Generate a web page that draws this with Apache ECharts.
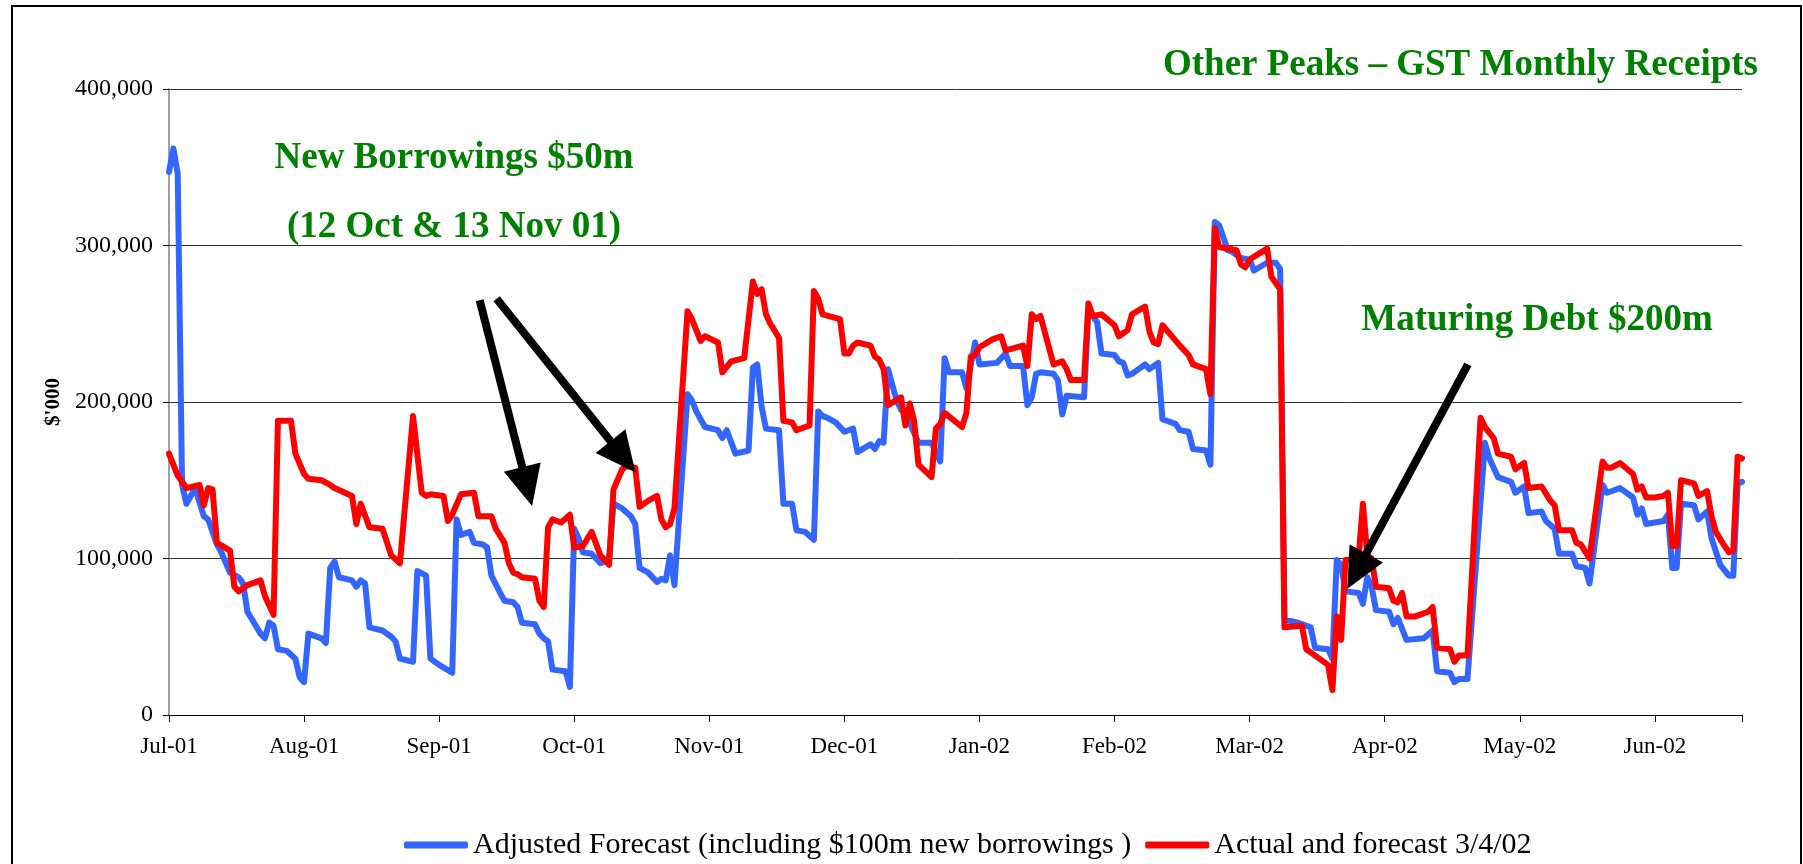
<!DOCTYPE html>
<html>
<head>
<meta charset="utf-8">
<script src="https://cdn.jsdelivr.net/npm/echarts@6/dist/echarts.min.js"></script>
<style>
  html, body { margin: 0; padding: 0; background: #fff; overflow: hidden; }
  #main { width: 1803px; height: 864px; }
  #frame { position: absolute; left: 11px; top: 5px; width: 1787px; height: 900px;
           border: 2px solid #000; pointer-events: none; }
</style>
</head>
<body>
<div id="main"></div>
<div id="frame"></div>
<script>
// x axis: days counted from 1 Jul 01, one tick every 31 days
const monthLabels = ['Jul-01', 'Aug-01', 'Sep-01', 'Oct-01', 'Nov-01', 'Dec-01',
  'Jan-02', 'Feb-02', 'Mar-02', 'Apr-02', 'May-02', 'Jun-02'];

// Adjusted Forecast (blue) - day and balance in $'000
const blueDays = [0, 1, 2, 3, 4, 6, 8, 9, 11, 12, 14, 16, 17, 18, 21, 22, 23, 24, 25, 27, 29, 30, 31, 32, 35, 36, 37, 38, 39, 42, 43, 44, 45, 46, 49, 51, 52, 53, 56, 57, 59, 60, 62,
  65, 66, 67, 69, 70, 72, 73, 74, 76, 77, 79, 80, 81, 84, 85, 86, 87, 88, 91, 92, 93, 94, 95, 97, 99, 100, 101, 102, 104, 106, 107, 108, 110, 112, 113, 114, 115, 116, 119, 120, 121, 123,
  126, 127, 128, 130, 133, 134, 135, 136, 137, 140, 141, 143, 144, 146, 148, 149, 150, 151, 153, 155, 157, 158, 161, 162, 163, 164, 165, 167, 168, 169, 172, 175, 177, 178, 179, 182, 183, 185, 186,
  190, 192, 193, 196, 197, 198, 199, 200, 203, 204, 205, 206, 210, 211, 213, 214, 217, 218, 219, 220, 221, 224, 225, 227, 228, 231, 232, 234, 235, 238, 239, 240, 241, 243, 244, 246, 248, 249, 252, 254, 255,
  256, 259, 262, 263, 266, 267, 268, 269, 270, 273, 274, 275, 276, 277, 280, 281, 282, 284, 288, 290, 291, 294, 295, 296, 298, 302, 303, 305, 308, 309, 311, 312, 315, 316, 318, 319,
  322, 323, 325, 326, 329, 330, 331, 333, 336, 337, 338, 339, 343, 344, 345, 346, 347, 350, 351, 353, 354, 356, 358, 359, 360, 361];
const blueValues = [347000, 362000, 346000, 147000, 135000, 145000, 127000, 125000, 109000, 104000, 91000, 88000, 84000, 66000, 52000, 49000, 59000, 57000, 42000, 41000, 36000, 24000, 21000, 52000, 49000, 46000, 94000, 98000, 88000, 86000, 82000, 86000, 84000, 56000, 54000, 50000, 47000, 36000, 34000, 92000, 89000, 36000, 32000,
  27000, 125000, 115000, 117000, 110000, 109000, 107000, 89000, 78000, 73000, 72000, 69000, 59000, 58000, 52000, 49000, 47000, 29000, 28000, 18000, 119000, 113000, 104000, 103000, 97000, 98000, 100000, 135000, 132000, 127000, 122000, 94000, 91000, 85000, 87000, 86000, 102000, 83000, 205000, 201000, 194000, 184000,
  182000, 177000, 182000, 167000, 169000, 222000, 224000, 197000, 183000, 182000, 135000, 135000, 118000, 117000, 112000, 194000, 191000, 190000, 187000, 181000, 183000, 168000, 173000, 170000, 175000, 174000, 221000, 201000, 195000, 193000, 174000, 174000, 162000, 228000, 219000, 219000, 209000, 238000, 224000,
  225000, 231000, 223000, 223000, 198000, 203000, 218000, 219000, 218000, 214000, 192000, 204000, 203000, 259000, 251000, 231000, 230000, 226000, 225000, 217000, 218000, 224000, 221000, 225000, 189000, 186000, 182000, 181000, 170000, 169000, 160000, 315000, 313000, 297000, 296000, 292000, 291000, 284000, 289000, 289000, 285000,
  61000, 59000, 56000, 43000, 42000, 36000, 99000, 96000, 79000, 78000, 71000, 88000, 82000, 67000, 66000, 58000, 62000, 48000, 49000, 54000, 28000, 27000, 21000, 23000, 23000, 174000, 164000, 152000, 149000, 142000, 146000, 129000, 130000, 124000, 119000, 103000,
  103000, 95000, 94000, 84000, 147000, 142000, 143000, 145000, 139000, 128000, 132000, 122000, 124000, 128000, 94000, 94000, 135000, 134000, 125000, 130000, 113000, 96000, 89000, 89000, 148000, 149000];

// Actual and forecast 3/4/02 (red)
const redDays = [0, 2, 4, 7, 8, 9, 10, 11, 14, 15, 16, 18, 21, 22, 24, 25, 28, 29, 31, 32, 35, 37, 38, 42, 43, 44, 46, 49, 51, 53, 56, 58, 59, 60,
  63, 64, 65, 67, 70, 71, 74, 75, 77, 78, 79, 80, 81, 84, 85, 86, 87, 88, 90, 92, 93, 95, 97, 99, 101, 102, 104, 105, 107, 108, 110, 112, 113, 114, 115, 116, 119, 120, 122, 123,
  126, 127, 129, 132, 134, 135, 136, 137, 138, 140, 141, 143, 144, 147, 148, 149, 150, 154, 155, 156, 157, 158, 161, 162, 163, 164, 165, 168, 169, 170, 171, 172, 175, 176, 177, 178, 182, 183, 184, 185, 186, 189,
  191, 192, 196, 197, 198, 199, 200, 203, 205, 206, 207, 210, 211, 212, 214, 217, 218, 220, 221, 224, 225, 226, 227, 228, 232, 234, 235, 238, 239, 240, 241, 245, 246, 247, 248, 252, 253, 254, 255,
  256, 260, 261, 262, 264, 266, 267, 268, 269, 270, 273, 274, 275, 276, 277, 280, 281, 282, 283, 284, 286, 289, 290, 291, 294, 295, 296, 298, 301, 302, 304, 305, 308, 309, 311, 312, 315, 317, 318, 319,
  322, 323, 324, 326, 329, 330, 331, 333, 336, 337, 338, 339, 341, 343, 344, 345, 346, 347, 350, 351, 353, 354, 355, 357, 358, 359, 360, 361];
const redValues = [167000, 153000, 145000, 147000, 134000, 145000, 144000, 110000, 105000, 82000, 79000, 83000, 86000, 76000, 64000, 188000, 188000, 167000, 154000, 151000, 150000, 147000, 145000, 140000, 122000, 135000, 120000, 119000, 102000, 97000, 191000, 142000, 140000, 141000,
  140000, 124000, 128000, 141000, 142000, 127000, 127000, 119000, 110000, 97000, 91000, 90000, 88000, 87000, 73000, 69000, 120000, 125000, 123000, 128000, 107000, 108000, 117000, 102000, 96000, 144000, 157000, 159000, 158000, 133000, 137000, 140000, 125000, 120000, 122000, 132000, 258000, 253000, 239000, 242000,
  238000, 219000, 226000, 228000, 277000, 269000, 272000, 256000, 250000, 241000, 188000, 187000, 182000, 185000, 271000, 266000, 256000, 253000, 231000, 231000, 236000, 238000, 236000, 229000, 227000, 221000, 198000, 203000, 185000, 199000, 188000, 160000, 152000, 183000, 186000, 193000, 184000, 193000, 229000, 230000, 235000, 240000,
  242000, 233000, 236000, 223000, 256000, 253000, 255000, 224000, 226000, 221000, 214000, 214000, 263000, 255000, 256000, 249000, 242000, 246000, 256000, 261000, 245000, 238000, 237000, 249000, 236000, 230000, 224000, 221000, 205000, 311000, 299000, 297000, 288000, 286000, 291000, 298000, 280000, 276000, 272000,
  56000, 57000, 42000, 40000, 36000, 32000, 16000, 63000, 48000, 99000, 100000, 135000, 102000, 100000, 82000, 81000, 73000, 72000, 78000, 63000, 63000, 66000, 69000, 43000, 42000, 34000, 38000, 38000, 190000, 184000, 177000, 167000, 165000, 157000, 161000, 145000, 146000, 137000, 134000, 118000,
  118000, 110000, 109000, 100000, 162000, 158000, 158000, 161000, 154000, 144000, 146000, 139000, 139000, 140000, 142000, 108000, 108000, 150000, 148000, 140000, 143000, 127000, 117000, 108000, 104000, 105000, 165000, 164000];

// arrows: [from, to] in [day, $'000]
const arrows = [
  [[71.3, 265000], [82.2, 146000]],
  [[75.2, 266000], [104.2, 165000]],
  [[298.1, 224000], [272.6, 92000]]
];

const serif = '"Liberation Serif", "Times New Roman", serif';
const green = '#008000';

const myChart = echarts.init(document.getElementById('main'));

const option = {
  animation: false,
  grid: { left: 169, right: 61, top: 89, bottom: 149 },
  legend: {
    left: 399,
    top: 825,
    itemWidth: 64,
    itemHeight: 7,
    itemGap: 14,
    icon: 'roundRect',
    textStyle: { fontFamily: serif, fontSize: 30, color: '#000' },
    data: ['Adjusted Forecast (including $100m new borrowings )', 'Actual and forecast 3/4/02']
  },
  xAxis: {
    type: 'value',
    min: 0,
    max: 361,
    interval: 31,
    splitLine: { show: false },
    axisLine: { lineStyle: { color: '#000', width: 1 } },
    axisTick: { length: 7, lineStyle: { color: '#000' } },
    axisLabel: {
      margin: 20,
      fontFamily: serif,
      fontSize: 23,
      color: '#000',
      formatter: (v) => (v % 31 === 0 ? monthLabels[v / 31] : '')
    }
  },
  yAxis: {
    type: 'value',
    min: 0,
    max: 400000,
    interval: 100000,
    name: "$'000",
    nameLocation: 'middle',
    nameRotate: 90,
    nameGap: 105,
    nameTextStyle: { fontFamily: serif, fontSize: 21, fontWeight: 'bold', color: '#000' },
    axisLine: { show: true, lineStyle: { color: '#808080', width: 1.5 } },
    axisTick: { show: true, length: 6, lineStyle: { color: '#000' } },
    splitLine: { lineStyle: { color: '#333', width: 1 } },
    axisLabel: {
      margin: 16,
      fontFamily: serif,
      fontSize: 24,
      color: '#000',
      formatter: (v) => v.toLocaleString('en-US')
    }
  },
  graphic: [
    { type: 'text', x: 1758, y: 65, style: { text: 'Other Peaks – GST Monthly Receipts', fill: green,
      font: 'bold 37px ' + serif, textAlign: 'right', textVerticalAlign: 'middle' } },
    { type: 'text', x: 454, y: 158, style: { text: 'New Borrowings $50m', fill: green,
      font: 'bold 37px ' + serif, textAlign: 'center', textVerticalAlign: 'middle' } },
    { type: 'text', x: 454, y: 227, style: { text: '(12 Oct & 13 Nov 01)', fill: green,
      font: 'bold 37px ' + serif, textAlign: 'center', textVerticalAlign: 'middle' } },
    { type: 'text', x: 1537, y: 320, style: { text: 'Maturing Debt $200m', fill: green,
      font: 'bold 37px ' + serif, textAlign: 'center', textVerticalAlign: 'middle' } }
  ],
  series: [
    {
      name: 'Adjusted Forecast (including $100m new borrowings )',
      type: 'line',
      data: blueDays.map((d, i) => [d, blueValues[i]]),
      showSymbol: false,
      symbol: 'none',
      color: '#3366FF',
      lineStyle: { width: 6, color: '#3366FF', join: 'round', cap: 'round' }
    },
    {
      name: 'Actual and forecast 3/4/02',
      type: 'line',
      data: redDays.map((d, i) => [d, redValues[i]]),
      showSymbol: false,
      symbol: 'none',
      color: '#FF0000',
      lineStyle: { width: 6, color: '#FF0000', join: 'round', cap: 'round' },
      markLine: {
        silent: true,
        symbol: ['none', 'triangle'],
        symbolSize: [38, 40],
        label: { show: false },
        lineStyle: { color: '#000', width: 8, type: 'solid' },
        itemStyle: { color: '#000' },
        data: arrows.map(([a, b]) => [{ coord: a }, { coord: b }])
      }
    }
  ]
};

myChart.setOption(option);
</script>
</body>
</html>
